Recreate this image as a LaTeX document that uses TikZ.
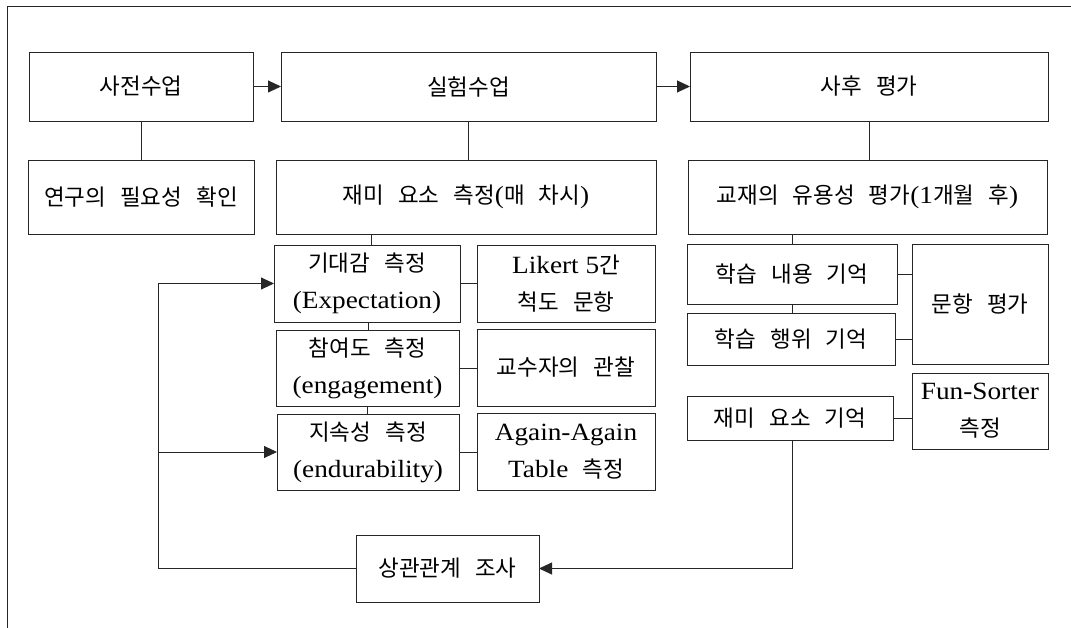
\documentclass[tikz,border=0pt]{standalone}
\usepackage{fontspec}
\setmainfont[Scale=1.18,FakeStretch=1.1]{Liberation Serif}
\newfontfamily\kr[Scale=1.07,WordSpace=2.8]{Noto Sans CJK KR}
\usetikzlibrary{arrows.meta}
\begin{document}
\begin{tikzpicture}[x=1pt,y=-1pt,
  line/.style={draw=black!85,line width=0.9pt},
  arr/.style={line,-{Triangle[length=13pt,width=12pt]}},
  box/.style={line,rectangle,inner sep=0pt,outer sep=0pt,align=center,
     font=\fontsize{21}{37}\selectfont\kr,text=black}]
\useasboundingbox (0,0) rectangle (1071,628);
% partial outer frame
\draw[line] (7,628) -- (7,6) -- (1071,6);
% top row
\node[box,minimum width=224pt,minimum height=69pt] (sajeon) at (141,86.5) {사전수업};
\node[box,minimum width=375pt,minimum height=69pt] (silheom) at (468.5,86.5) {실험수업};
\node[box,minimum width=358pt,minimum height=69pt] (sahu) at (869,86.5) {사후 평가};
% second row
\node[box,minimum width=226pt,minimum height=74pt] (yeongu) at (141,197) {연구의 필요성 확인};
\node[box,minimum width=380pt,minimum height=74pt] (jaemi) at (466,197) {재미 요소 측정{\rmfamily(}매 차시{\rmfamily)}};
\node[box,minimum width=359pt,minimum height=74pt] (gyojae) at (867.5,197) {교재의 유용성 평가{\rmfamily(1}개월 후{\rmfamily)}};
% middle measurements
\node[box,minimum width=186pt,minimum height=77pt] (gidae) at (367,283.5) {기대감 측정\\{\rmfamily(Expectation)}};
\node[box,minimum width=178pt,minimum height=77pt] (likert) at (566,283.5) {{\rmfamily Likert 5}간\\척도 문항};
\node[box,minimum width=183pt,minimum height=76pt] (chamyeo) at (367.5,368) {참여도 측정\\{\rmfamily(engagement)}};
\node[box,minimum width=178pt,minimum height=77pt] (gyosu) at (566,367.5) {교수자의 관찰};
\node[box,minimum width=182pt,minimum height=76pt] (jisok) at (368,452) {지속성 측정\\{\rmfamily(endurability)}};
\node[box,minimum width=178pt,minimum height=77pt] (again) at (566,451.5) {{\rmfamily Again-Again}\\{\rmfamily Table} 측정};
% right side
\node[box,minimum width=210pt,minimum height=60pt] (hak1) at (792,274) {학습 내용 기억};
\node[box,minimum width=208pt,minimum height=52pt] (hak2) at (791,339) {학습 행위 기억};
\node[box,minimum width=136pt,minimum height=120pt] (munhang) at (980,304) {문항 평가};
\node[box,minimum width=136pt,minimum height=76pt] (fun) at (980,411) {{\rmfamily Fun-Sorter}\\측정};
\node[box,minimum width=206pt,minimum height=44pt] (jaemigi) at (790,418) {재미 요소 기억};
% bottom
\node[box,minimum width=183pt,minimum height=67pt] (sanggwan) at (447.5,568.5) {상관관계 조사};
\coordinate (L) at (158,0);
% connectors
\draw[arr] (sajeon.east) -- (silheom.west);
\draw[arr] (silheom.east) -- (sahu.west);
\draw[line] (sajeon.south) -- (yeongu.north);
\draw[line] (silheom.south) -- (silheom.south |- jaemi.north);
\draw[line] (sahu.south) -- (sahu.south |- gyojae.north);
\draw[line] ([xshift=4pt]gidae.north) -- ([xshift=4pt]gidae.north |- jaemi.south);
\draw[line] ([xshift=1pt]gidae.south) -- ([xshift=1pt]gidae.south |- chamyeo.north);
\draw[line] (chamyeo.south) -- (chamyeo.south |- jisok.north);
\draw[line] (gidae.east) -- (gidae.east -| likert.west);
\draw[line] (chamyeo.east) -- (chamyeo.east -| gyosu.west);
\draw[line] (jisok.east) -- (jisok.east -| again.west);
\draw[line] (hak1.north) -- (hak1.north |- gyojae.south);
\draw[line] (hak1.south) -- (hak1.south |- hak2.north);
\draw[line] (hak1.east) -- (hak1.east -| munhang.west);
\draw[line] (hak2.east) -- (hak2.east -| munhang.west);
\draw[line] (jaemigi.east) -- (jaemigi.east -| fun.west);
\draw[arr] ([xshift=2pt]jaemigi.south) |- (sanggwan.east);
\draw[arr] (sanggwan.west) -| (L |- gidae.west) -- (gidae.west);
\draw[arr] (L |- jisok.west) -- (jisok.west);
\end{tikzpicture}
\end{document}
